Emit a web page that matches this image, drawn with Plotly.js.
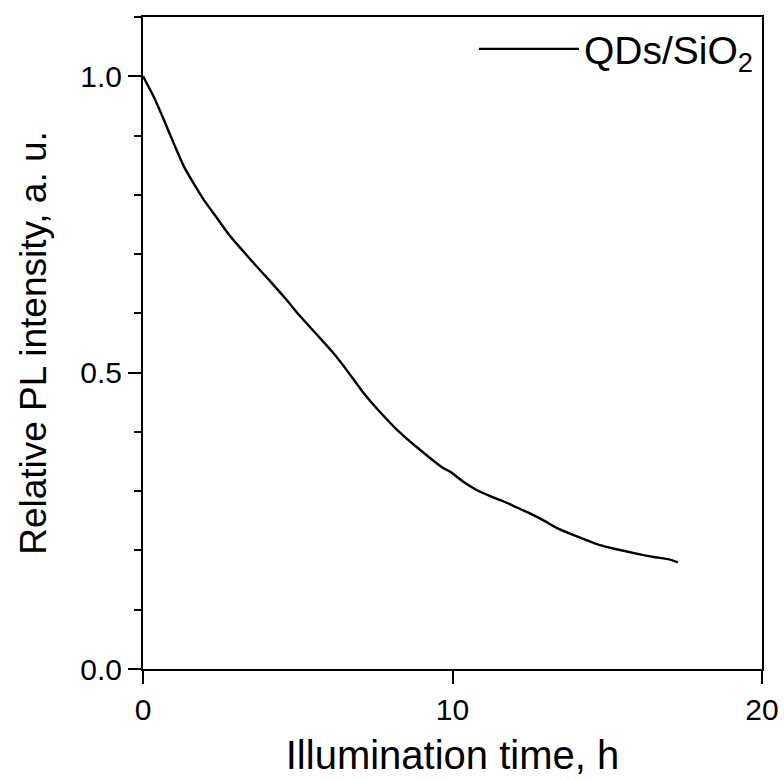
<!DOCTYPE html>
<html>
<head>
<meta charset="utf-8">
<script src="https://cdn.plot.ly/plotly-3.0.1.min.js"></script>
<style>html,body{margin:0;padding:0;background:#fff;}</style>
</head>
<body>
<div id="chart" style="width:784px;height:781px;"></div>
<script>
const timeH = [0, 0.35, 0.67, 1.0, 1.32, 1.65, 1.96, 2.4, 2.82, 3.15, 3.47, 3.85, 4.2, 4.65, 5.08, 5.62, 6.15, 6.6, 7.12, 7.65, 8.2, 8.9, 9.7, 9.92, 10.35, 10.78, 11.2, 11.64, 12.1, 12.6, 13.0, 13.36, 14.0, 14.76, 15.3, 15.83, 16.5, 17.0, 17.28];
const relPL = [1.0, 0.965, 0.927, 0.886, 0.848, 0.818, 0.792, 0.760, 0.730, 0.710, 0.691, 0.669, 0.649, 0.622, 0.595, 0.564, 0.533, 0.503, 0.466, 0.434, 0.404, 0.372, 0.339, 0.333, 0.316, 0.302, 0.292, 0.283, 0.272, 0.260, 0.249, 0.238, 0.224, 0.209, 0.202, 0.196, 0.189, 0.185, 0.180];
const seriesName = 'QDs/SiO<sub>2</sub>';
const xTickVals = [0, 10, 20];
const yTickVals = [0, 0.5, 1.0];
const yTickText = ['0.0', '0.5', '1.0'];

const font = 'Liberation Sans, Arial, sans-serif';
const trace = {
  x: timeH, y: relPL, type: 'scatter', mode: 'lines', name: seriesName,
  line: {color: '#000', width: 2.4, shape: 'spline', smoothing: 0.6}
};
const layout = {
  width: 784, height: 781,
  margin: {l: 143, r: 22, t: 17, b: 112},
  paper_bgcolor: '#fff', plot_bgcolor: '#fff',
  font: {family: font, color: '#000'},
  showlegend: true,
  legend: {x: 0.995, y: 1.0, xanchor: 'right', yanchor: 'top', bgcolor: 'rgba(0,0,0,0)',
           font: {size: 39, family: font, color: '#000'}, itemwidth: 100},
  xaxis: {
    range: [0, 20], tickvals: xTickVals, ticks: 'outside', ticklen: 13, tickwidth: 2,
    tickcolor: '#000', showline: true, linecolor: '#000', linewidth: 2, mirror: true,
    showgrid: false, zeroline: false, tickfont: {size: 30, family: font},
    title: {text: 'Illumination time, h', font: {size: 40, family: font}, standoff: 16}
  },
  yaxis: {
    range: [0, 1.1], tickvals: yTickVals, ticktext: yTickText, ticks: 'outside', ticklen: 13, tickwidth: 2,
    tickcolor: '#000', showline: true, linecolor: '#000', linewidth: 2, mirror: true,
    showgrid: false, zeroline: false, tickfont: {size: 30, family: font},
    minor: {dtick: 0.1, tick0: 0, ticks: 'outside', ticklen: 7, tickwidth: 2, tickcolor: '#000', showgrid: false},
    title: {text: 'Relative PL intensity, a. u.', font: {size: 37, family: font}, standoff: 22}
  }
};
Plotly.newPlot('chart', [trace], layout, {staticPlot: true, displayModeBar: false});
</script>
</body>
</html>
